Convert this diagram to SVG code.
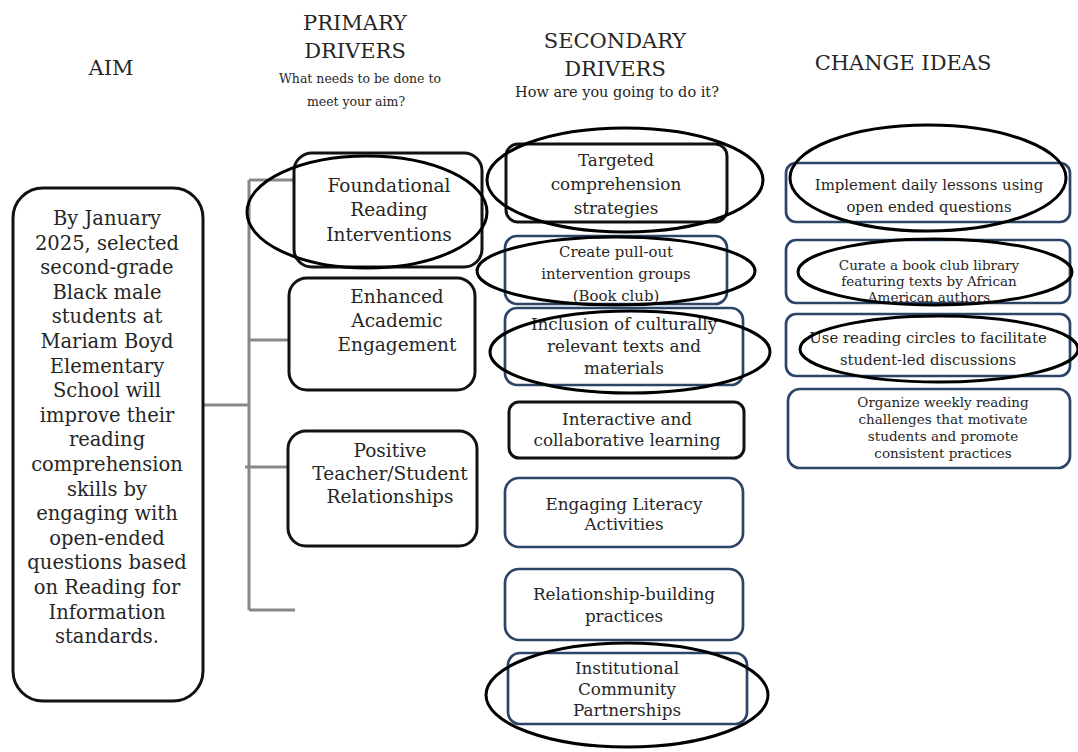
<svg xmlns="http://www.w3.org/2000/svg" width="1078" height="752" viewBox="0 0 1078 752">
<style>
text{font-family:"DejaVu Serif","Liberation Serif",serif;fill:#262626;text-anchor:middle}
.h{font-size:21px}
.s1{font-size:12.5px}
.s2{font-size:14.5px}
.aim{font-size:19.5px}
.p{font-size:18.5px}
.sd{font-size:16.8px}
.c{font-size:14.9px}
.cs{font-size:13.5px}
.bk{fill:#fff;stroke:#111;stroke-width:3}
.bl{fill:#fff;stroke:#2c4566;stroke-width:2.7}
.el{fill:none;stroke:#000;stroke-width:3}
.cn{fill:none;stroke:#888;stroke-width:3}
</style>
<rect width="1078" height="752" fill="#fff"/>
<g id="headers">
<text class="h" x="111" y="75">AIM</text>
<text class="h" x="355" y="30">PRIMARY</text>
<text class="h" x="355" y="58">DRIVERS</text>
<text class="s1" x="360" y="83">What needs to be done to</text>
<text class="s1" x="356" y="106">meet your aim?</text>
<text class="h" x="615" y="48">SECONDARY</text>
<text class="h" x="615" y="76">DRIVERS</text>
<text class="s2" x="617" y="97">How are you going to do it?</text>
<text class="h" x="903" y="70">CHANGE IDEAS</text>
</g>
<g id="connectors">
<path class="cn" d="M155 405H249M249 180V610M249 180H295M249 340H295M245 467H298M249 610H295"/>
</g>
<g id="aim">
<rect class="bk" x="13" y="188" width="190" height="513" rx="30"/>
<text class="aim" x="107"><tspan x="107" y="225">By January</tspan><tspan x="107" dy="24.6">2025, selected</tspan><tspan x="107" dy="24.6">second-grade</tspan><tspan x="107" dy="24.6">Black male</tspan><tspan x="107" dy="24.6">students at</tspan><tspan x="107" dy="24.6">Mariam Boyd</tspan><tspan x="107" dy="24.6">Elementary</tspan><tspan x="107" dy="24.6">School will</tspan><tspan x="107" dy="24.6">improve their</tspan><tspan x="107" dy="24.6">reading</tspan><tspan x="107" dy="24.6">comprehension</tspan><tspan x="107" dy="24.6">skills by</tspan><tspan x="107" dy="24.6">engaging with</tspan><tspan x="107" dy="24.6">open-ended</tspan><tspan x="107" dy="24.6">questions based</tspan><tspan x="107" dy="24.6">on Reading for</tspan><tspan x="107" dy="24.6">Information</tspan><tspan x="107" dy="24.6">standards.</tspan></text>
</g>
<g id="p1">
<rect class="bk" x="294" y="153" width="188" height="114" rx="18"/>
<text class="p"><tspan x="389" y="192">Foundational</tspan><tspan x="389" y="216">Reading</tspan><tspan x="389" y="241">Interventions</tspan></text>
<ellipse class="el" cx="367" cy="212" rx="120" ry="56"/>
</g>
<g id="p2">
<rect class="bk" x="289" y="278" width="186" height="112" rx="18"/>
<text class="p"><tspan x="397" y="303">Enhanced</tspan><tspan x="397" y="327">Academic</tspan><tspan x="397" y="351">Engagement</tspan></text>
</g>
<g id="p3">
<rect class="bk" x="288" y="431" width="189" height="115" rx="18"/>
<text class="p"><tspan x="390" y="457">Positive</tspan><tspan x="390" y="480">Teacher/Student</tspan><tspan x="390" y="503">Relationships</tspan></text>
</g>
<g id="s1">
<rect class="bk" x="506" y="144" width="221" height="78" rx="12"/>
<text class="sd"><tspan x="616" y="166">Targeted</tspan><tspan x="616" y="190">comprehension</tspan><tspan x="616" y="214">strategies</tspan></text>
<ellipse class="el" cx="625" cy="180" rx="138" ry="52"/>
</g>
<g id="s2">
<rect class="bl" x="505" y="236" width="222" height="68" rx="12"/>
<text class="c"><tspan x="616" y="257">Create pull-out</tspan><tspan x="616" y="279">intervention groups</tspan><tspan x="616" y="301">(Book club)</tspan></text>
<ellipse class="el" cx="616" cy="271" rx="139" ry="34"/>
</g>
<g id="s3">
<rect class="bl" x="505" y="308" width="238" height="77" rx="12"/>
<text class="sd"><tspan x="624" y="330">Inclusion of culturally</tspan><tspan x="624" y="352">relevant texts and</tspan><tspan x="624" y="374">materials</tspan></text>
<ellipse class="el" cx="630" cy="352" rx="140" ry="41"/>
</g>
<g id="s4">
<rect class="bk" x="509" y="402" width="235" height="56" rx="10"/>
<text class="sd"><tspan x="627" y="425">Interactive and</tspan><tspan x="627" y="446">collaborative learning</tspan></text>
</g>
<g id="s5">
<rect class="bl" x="505" y="478" width="238" height="69" rx="14"/>
<text class="sd"><tspan x="624" y="510">Engaging Literacy</tspan><tspan x="624" y="530">Activities</tspan></text>
</g>
<g id="s6">
<rect class="bl" x="505" y="569" width="238" height="71" rx="14"/>
<text class="sd"><tspan x="624" y="600">Relationship-building</tspan><tspan x="624" y="622">practices</tspan></text>
</g>
<g id="s7">
<rect class="bl" x="508" y="653" width="239" height="71" rx="12"/>
<text class="sd"><tspan x="627" y="674">Institutional</tspan><tspan x="627" y="695">Community</tspan><tspan x="627" y="716">Partnerships</tspan></text>
<ellipse class="el" cx="627" cy="695" rx="141" ry="52"/>
</g>
<g id="c1">
<rect class="bl" x="786" y="163" width="284" height="59" rx="10"/>
<text class="c"><tspan x="929" y="190">Implement daily lessons using</tspan><tspan x="929" y="212">open ended questions</tspan></text>
<ellipse class="el" cx="928" cy="178" rx="138" ry="53"/>
</g>
<g id="c2">
<rect class="bl" x="786" y="240" width="284" height="63" rx="10"/>
<text class="cs"><tspan x="929" y="270">Curate a book club library</tspan><tspan x="929" y="286">featuring texts by African</tspan><tspan x="929" y="302">American authors</tspan></text>
<ellipse class="el" cx="935" cy="272" rx="137" ry="33"/>
</g>
<g id="c3">
<rect class="bl" x="786" y="314" width="284" height="62" rx="10"/>
<text class="c"><tspan x="928" y="343">Use reading circles to facilitate</tspan><tspan x="928" y="365">student-led discussions</tspan></text>
<ellipse class="el" cx="939" cy="349" rx="139" ry="33"/>
</g>
<g id="c4">
<rect class="bl" x="788" y="389" width="282" height="79" rx="12"/>
<text class="cs"><tspan x="943" y="407">Organize weekly reading</tspan><tspan x="943" y="424">challenges that motivate</tspan><tspan x="943" y="441">students and promote</tspan><tspan x="943" y="458">consistent practices</tspan></text>
</g>
</svg>
